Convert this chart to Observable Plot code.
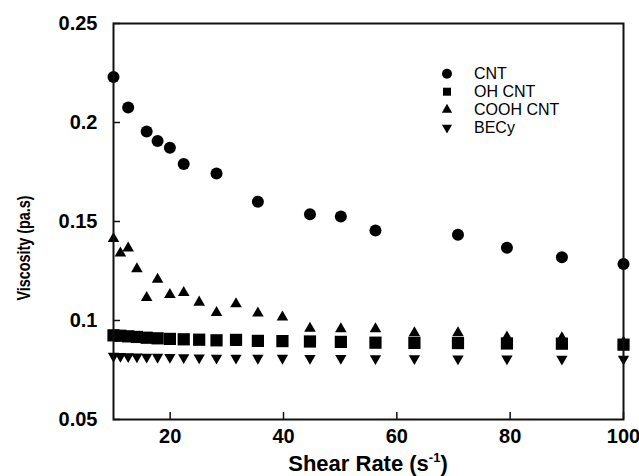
<!DOCTYPE html>
<html><head><meta charset="utf-8">
<script src="https://cdn.jsdelivr.net/npm/d3@7"></script>
<script src="https://cdn.jsdelivr.net/npm/@observablehq/plot@0.6"></script>
<style>body{margin:0;background:#fff}</style>
</head><body><div id="chart"></div>
<script>
// ---- data ----
const shearRate = [10, 11.22, 12.59, 14.13, 15.85, 17.78, 19.95, 22.39, 25.12, 28.18, 31.62, 35.48, 39.81, 44.67, 50.12, 56.23, 63.10, 70.79, 79.43, 89.13, 100];
const cntRate = [10, 12.59, 15.85, 17.78, 19.95, 22.39, 28.18, 35.48, 44.67, 50.12, 56.23, 70.79, 79.43, 89.13, 100];
const cntVisc = [0.2230, 0.2076, 0.1955, 0.1906, 0.1872, 0.1790, 0.1742, 0.1600, 0.1537, 0.1525, 0.1455, 0.1433, 0.1367, 0.1320, 0.1285];
const ohVisc = [0.0925, 0.0923, 0.0920, 0.0917, 0.0913, 0.0910, 0.0907, 0.0905, 0.0903, 0.0900, 0.0902, 0.0897, 0.0896, 0.0894, 0.0892, 0.0888, 0.0887, 0.0886, 0.0884, 0.0883, 0.0878];
const coohVisc = [0.1413, 0.1340, 0.1365, 0.1261, 0.1115, 0.1207, 0.1131, 0.1140, 0.1092, 0.1039, 0.1084, 0.1037, 0.1017, 0.0960, 0.0958, 0.0958, 0.0937, 0.0937, 0.0916, 0.0912, 0.0890];
const becyVisc = [0.0820, 0.0819, 0.0818, 0.0817, 0.0816, 0.0815, 0.0814, 0.0813, 0.0812, 0.0811, 0.0811, 0.0810, 0.0810, 0.0809, 0.0809, 0.0808, 0.0808, 0.0807, 0.0807, 0.0806, 0.0806];
const seriesNames = ["CNT", "OH CNT", "COOH CNT", "BECy"];
const xTicks = [20, 40, 60, 80, 100];
const yTicks = [0.05, 0.1, 0.15, 0.2, 0.25];
const yTickLabels = ["0.05", "0.1", "0.15", "0.2", "0.25"];
const xTitle = "Shear Rate (s";
const xTitleSup = "-1";
const yTitle = "Viscosity (pa.s)";

// ---- layout ----
const W = 639, H = 476;
const mL = 113, mR = 16, mT = 23, mB = 57;
const plotW = W - mL - mR, plotH = H - mT - mB;
const FONT = "'Liberation Sans', Arial, Helvetica, sans-serif";

const triangleDown = {
  draw(context, size) {
    const y = Math.sqrt(size / (3 * Math.sqrt(3)));
    context.moveTo(0, 2 * y);
    context.lineTo(-Math.sqrt(3) * y, -y);
    context.lineTo(Math.sqrt(3) * y, -y);
    context.closePath();
  }
};

const yLab = new Map(yTicks.map((t, i) => [t, yTickLabels[i]]));

const chart = Plot.plot({
  width: W, height: H,
  marginLeft: mL, marginRight: mR, marginTop: mT, marginBottom: mB,
  style: {fontFamily: FONT, fontSize: "20px", fontWeight: "bold", color: "#000", background: "#fff"},
  x: {domain: [10, 100]},
  y: {domain: [0.05, 0.25]},
  marks: [
    Plot.axisX({ticks: xTicks, tickSize: 0, tickPadding: 9, label: null, tickFormat: d => String(d)}),
    Plot.axisY({ticks: yTicks, tickSize: 0, tickPadding: 16, label: null, tickFormat: d => yLab.get(d)}),
    Plot.tickX(xTicks, {x: d => d, insetTop: plotH - 7, stroke: "#111", strokeWidth: 1.5}),
    Plot.tickY(yTicks, {y: d => d, insetRight: plotW - 7, stroke: "#111", strokeWidth: 1.5}),
    Plot.dot(becyVisc, {x: (d, i) => shearRate[i], y: d => d, symbol: triangleDown, r: 4.2, fill: "#000", stroke: null}),
    Plot.dot(ohVisc, {x: (d, i) => shearRate[i], y: d => d, symbol: "square", r: 6.9, fill: "#000", stroke: null}),
    Plot.dot(coohVisc, {x: (d, i) => shearRate[i], y: d => d, symbol: "triangle", r: 4.3, fill: "#000", stroke: null}),
    Plot.dot(cntVisc, {x: (d, i) => cntRate[i], y: d => d, symbol: "circle", r: 6, fill: "#000", stroke: null}),
    Plot.frame({stroke: "#111", strokeWidth: 2})
  ]
});
document.getElementById("chart").appendChild(chart);

// ---- axis titles ----
const svg = d3.select(chart);
const xt = svg.append("text")
  .attr("x", mL + plotW / 2).attr("y", 471)
  .attr("text-anchor", "middle")
  .attr("font-family", FONT).attr("font-size", 22).attr("font-weight", "bold").attr("fill", "#000");
xt.append("tspan").text(xTitle);
xt.append("tspan").attr("dy", -9).attr("font-size", 13).text(xTitleSup);
xt.append("tspan").attr("dy", 9).text(")");

svg.append("text")
  .attr("transform", "translate(30,248) rotate(-90)")
  .attr("text-anchor", "middle")
  .attr("font-family", FONT).attr("font-size", 18).attr("font-weight", "bold").attr("fill", "#000")
  .attr("textLength", 105).attr("lengthAdjust", "spacingAndGlyphs")
  .text(yTitle);

// ---- legend ----
const legendSymbols = [d3.symbolCircle, d3.symbolSquare, d3.symbolTriangle, triangleDown];
const legendSizes = [78, 64, 45, 45];
const lg = svg.append("g").attr("transform", "translate(447,79)");
seriesNames.forEach((name, i) => {
  const row = lg.append("g").attr("transform", `translate(0,${i * 18})`);
  row.append("path")
    .attr("transform", "translate(0,-5.3)")
    .attr("d", d3.symbol().type(legendSymbols[i]).size(legendSizes[i])())
    .attr("fill", "#000");
  row.append("text").attr("x", 27).attr("y", 0)
    .attr("text-anchor", "start")
    .attr("font-family", FONT).attr("font-size", 16).attr("font-weight", "normal").attr("fill", "#000")
    .text(name);
});
</script>
</body></html>
